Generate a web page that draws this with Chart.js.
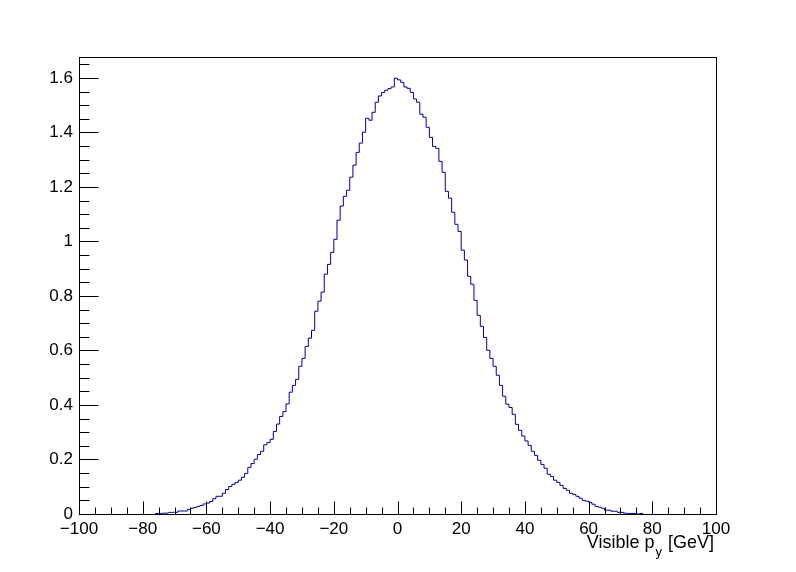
<!DOCTYPE html>
<html>
<head>
<meta charset="utf-8">
<title>Visible py</title>
<script src="https://cdn.jsdelivr.net/npm/chart.js"></script>
<style>
  html, body { margin: 0; padding: 0; background: #fff; }
  canvas { display: block; }
</style>
</head>
<body>
<canvas id="c" width="796" height="572"></canvas>
<script>
// histogram binning: 1 GeV bins, first filled bin starts at -76
const firstBinLow = -76;
const binWidth = 1;

// bin contents, bins -76 .. 76
const visiblePy = [
  0.002, 0.002, 0.003, 0.003, 0.006, 0.006, 0.006, 0.011, 0.011, 0.011, // -76..-67
  0.017, 0.021, 0.024, 0.028, 0.031, 0.037, 0.040, 0.046, 0.056, 0.065, // -66..-57
  0.065, 0.076, 0.090, 0.101, 0.109, 0.116, 0.124, 0.135, 0.149, 0.171, // -56..-47
  0.185, 0.201, 0.218, 0.230, 0.254, 0.262, 0.274, 0.303, 0.330, 0.358, // -46..-37
  0.376, 0.404, 0.447, 0.472, 0.494, 0.542, 0.571, 0.615, 0.645, 0.674, // -36..-27
  0.744, 0.781, 0.814, 0.880, 0.916, 0.960, 1.008, 1.078, 1.130, 1.166, // -26..-17
  1.188, 1.236, 1.280, 1.327, 1.361, 1.401, 1.452, 1.445, 1.474, 1.511, // -16..-7
  1.534, 1.547, 1.555, 1.561, 1.567, 1.599, 1.593, 1.584, 1.567, 1.562, // -6..3
  1.547, 1.523, 1.511, 1.467, 1.456, 1.419, 1.382, 1.349, 1.342, 1.294, // 4..13
  1.254, 1.184, 1.159, 1.107, 1.063, 1.037, 0.968, 0.932, 0.872, 0.843, // 14..23
  0.784, 0.729, 0.689, 0.648, 0.601, 0.571, 0.542, 0.509, 0.472, 0.432, // 24..33
  0.403, 0.391, 0.366, 0.329, 0.307, 0.286, 0.268, 0.252, 0.230, 0.215, // 34..43
  0.197, 0.182, 0.168, 0.146, 0.138, 0.124, 0.116, 0.105, 0.094, 0.087, // 44..53
  0.076, 0.072, 0.065, 0.058, 0.050, 0.047, 0.043, 0.036, 0.028, 0.025, // 54..63
  0.021, 0.014, 0.014, 0.010, 0.010, 0.006, 0.006, 0.003, 0.002, 0.002, // 64..73
  0.002, 0.000, 0.002                                                   // 74..76
];

// axis ranges and tick steps
const xRange = [-100, 100];
const yRange = [0, 1.677];
const xMajorStep = 20, xMinorStep = 5;
const yMajorStep = 0.2, yMinorStep = 0.05;

const FONT = '"Liberation Sans", Arial, Helvetica, sans-serif';
const LINE_COLOR = '#000099';

// step outline points (value held from low edge to the next edge)
const points = [{ x: firstBinLow, y: 0 }];
visiblePy.forEach(function (v, i) {
  points.push({ x: firstBinLow + i * binWidth, y: v });
});
const lastEdge = firstBinLow + visiblePy.length * binWidth;
points.push({ x: lastEdge, y: visiblePy[visiblePy.length - 1] });
points.push({ x: lastEdge, y: 0 });

function minusSign(v) {
  return v < 0 ? '\u2212' + Math.abs(v) : String(v);
}

// ROOT style frame with inward ticks and the axis title
const rootFrame = {
  id: 'rootFrame',
  afterDraw(chart) {
    const ctx = chart.ctx;
    const a = chart.chartArea;
    const xs = chart.scales.x, ys = chart.scales.y;
    const L = Math.round(a.left), R = Math.round(a.right);
    const T = Math.round(a.top), B = Math.round(a.bottom);
    ctx.save();
    ctx.strokeStyle = '#000';
    ctx.lineWidth = 1;
    ctx.strokeRect(L + 0.5, T + 0.5, R - L, B - T);

    ctx.beginPath();
    // x ticks
    for (let v = xRange[0]; v <= xRange[1] + 1e-9; v += xMinorStep) {
      const px = Math.min(Math.round(xs.getPixelForValue(v)), R) + 0.5;
      const major = Math.abs(v % xMajorStep) < 1e-9;
      const len = major ? 13 : 7;
      ctx.moveTo(px, B + 0.5);
      ctx.lineTo(px, B + 0.5 - len);
    }
    // y ticks
    for (let i = 0; i * yMinorStep <= yRange[1] + 1e-9; i++) {
      const v = i * yMinorStep;
      const py = Math.round(ys.getPixelForValue(v)) + 0.5;
      const major = i % Math.round(yMajorStep / yMinorStep) === 0;
      const len = major ? 19 : 10;
      ctx.moveTo(L + 0.5, py);
      ctx.lineTo(L + 0.5 + len, py);
    }
    ctx.stroke();

    // axis title: Visible p_y [GeV], right aligned to the frame
    ctx.fillStyle = '#000';
    ctx.textBaseline = 'alphabetic';
    ctx.textAlign = 'left';
    const main = '18px ' + FONT, sub = '13px ' + FONT;
    ctx.font = main;
    const w1 = ctx.measureText('Visible p').width;
    const w3 = ctx.measureText('[GeV]').width;
    ctx.font = sub;
    const w2 = ctx.measureText('y').width;
    const gap = 6;
    let x0 = R - 2 - (w1 + 1 + w2 + gap + w3);
    const base = 548;
    ctx.font = main;
    ctx.fillText('Visible p', x0, base);
    ctx.font = sub;
    ctx.fillText('y', x0 + w1 + 1, base + 8);
    ctx.font = main;
    ctx.fillText('[GeV]', x0 + w1 + 1 + w2 + gap, base);
    ctx.restore();
  }
};

new Chart(document.getElementById('c'), {
  type: 'line',
  data: {
    datasets: [{
      data: points,
      stepped: 'before',
      borderColor: LINE_COLOR,
      borderWidth: 1,
      pointRadius: 0,
      fill: false,
      tension: 0
    }]
  },
  options: {
    responsive: false,
    animation: false,
    devicePixelRatio: 1,
    layout: { padding: { top: 57, right: 80, left: 0, bottom: 0 } },
    plugins: { legend: { display: false }, tooltip: { enabled: false } },
    scales: {
      x: {
        type: 'linear',
        min: xRange[0],
        max: xRange[1],
        grid: { display: false, drawTicks: false },
        border: { display: false },
        ticks: {
          stepSize: xMajorStep,
          padding: 5,
          color: '#000',
          maxRotation: 0,
          autoSkip: false,
          includeBounds: false,
          font: { family: FONT, size: 17 },
          callback: function (v) { return minusSign(v); }
        },
        afterFit: function (s) { s.height = 58; }
      },
      y: {
        type: 'linear',
        min: yRange[0],
        max: yRange[1],
        grid: { display: false, drawTicks: false },
        border: { display: false },
        ticks: {
          stepSize: yMajorStep,
          padding: 6,
          color: '#000',
          autoSkip: false,
          includeBounds: false,
          font: { family: FONT, size: 17 },
          callback: function (v) { return String(+v.toFixed(1)); }
        },
        afterFit: function (s) { s.width = 79; }
      }
    }
  },
  plugins: [rootFrame]
});
</script>
</body>
</html>
